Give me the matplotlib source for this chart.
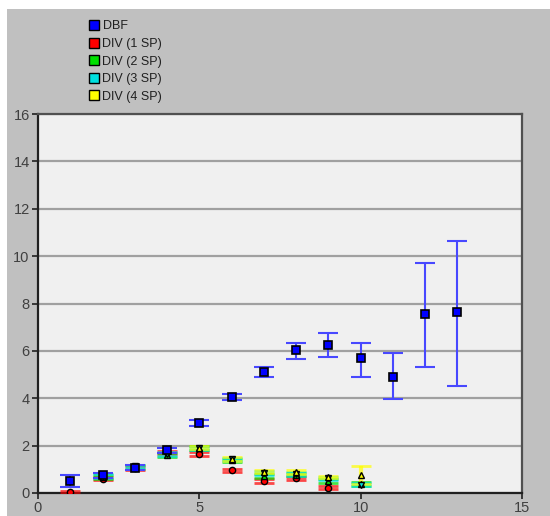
import numpy as np
import matplotlib.pyplot as plt
from matplotlib.patches import Rectangle
from matplotlib.lines import Line2D

plt.rcParams['font.family'] = ['Liberation Sans', 'DejaVu Sans']

# data
x_dbf = [1, 2, 3, 4, 5, 6, 7, 8, 9, 10, 11, 12, 13]
y_dbf = [0.52, 0.75, 1.05, 1.8, 2.95, 4.05, 5.1, 6.05, 6.25, 5.7, 4.9, 7.55, 7.65]
lo_dbf = [0.27, 0.63, 0.95, 1.7, 2.83, 3.93, 4.88, 5.65, 5.75, 4.9, 3.95, 5.3, 4.52]
hi_dbf = [0.76, 0.85, 1.17, 1.9, 3.07, 4.17, 5.32, 6.35, 6.75, 6.35, 5.9, 9.7, 10.65]

x_div1 = [1, 2, 3, 4, 5, 6, 7, 8, 9]
y_div1 = [0.03, 0.6, 1.05, 1.72, 1.65, 0.95, 0.5, 0.62, 0.22]

x_div2 = [2, 3, 4, 5, 6, 7, 8, 9, 10]
y_div2 = [0.68, 1.1, 1.6, 1.9, 1.38, 0.72, 0.78, 0.5, 0.38]

x_div3 = [2, 3, 4, 5, 6, 7, 8, 9, 10]
y_div3 = [0.72, 1.12, 1.65, 1.88, 1.42, 0.85, 0.8, 0.62, 0.35]

x_div4 = [5, 6, 7, 8, 9, 10]
y_div4 = [1.92, 1.45, 0.9, 0.88, 0.68, 0.76]
err_div4 = [0.06, 0.08, 0.06, 0.08, 0.05, 0.4]

labels = ['DBF', 'DIV (1 SP)', 'DIV (2 SP)', 'DIV (3 SP)', 'DIV (4 SP)']
colors = ['#0000ff', '#ff0000', '#00e000', '#00e0e0', '#ffff00']

fig = plt.figure(figsize=(5.5, 5.16), dpi=100)
fig.patch.set_facecolor('white')
fig.patches.append(Rectangle((7 / 550, 0), 1, 1 - 9 / 516, transform=fig.transFigure,
                             facecolor='#c0c0c0', edgecolor='none', zorder=-10))

ax = fig.add_axes([38 / 550, 23 / 516, 484 / 550, 379 / 516])
ax.set_facecolor('#f0f0f0')

# DIV series first (drawn under DBF)
div = [(x_div1, y_div1, None, 'o'), (x_div2, y_div2, None, '^'),
       (x_div3, y_div3, None, 'v'), (x_div4, y_div4, err_div4, '^')]
for i, (xs, ys, er, mk) in enumerate(div):
    if er is None:
        er = [0.07] * len(xs)
    ax.errorbar(xs, ys, yerr=er, fmt='none', ecolor=colors[i + 1], elinewidth=3,
                capsize=7, capthick=2, alpha=0.7, zorder=3)
    ax.plot(xs, ys, linestyle='none', marker=mk, markersize=4.5,
            markerfacecolor=colors[i + 1], markeredgecolor='black', zorder=4)

dbf_err = [np.array(y_dbf) - np.array(lo_dbf), np.array(hi_dbf) - np.array(y_dbf)]
ax.errorbar(x_dbf, y_dbf, yerr=dbf_err, fmt='none', ecolor='#4848ff', elinewidth=1.5,
            capsize=7, capthick=1.5, zorder=5)
ax.plot(x_dbf, y_dbf, linestyle='none', marker='s', markersize=5.8,
        markerfacecolor='#0000ff', markeredgecolor='black', markeredgewidth=1.2, zorder=6)

ax.set_xlim(0, 15)
ax.set_ylim(0, 16)
ax.set_xticks([0, 5, 10, 15])
ax.set_yticks(range(0, 17, 2))
ax.yaxis.grid(True, color='#a0a0a0', linewidth=1.6)
ax.set_axisbelow(True)
for s in ['left', 'bottom']:
    ax.spines[s].set_linewidth(1.6)
    ax.spines[s].set_color('#202020')
for s in ['top', 'right']:
    ax.spines[s].set_linewidth(1.6)
    ax.spines[s].set_color('#505050')
ax.tick_params(direction='out', length=4, width=1.2, labelsize=10.5,
               labelcolor='#404040', color='#202020')
ax.tick_params(axis='x', pad=1.5)
ax.tick_params(axis='y', pad=2)

handles = [Line2D([], [], linestyle='none', marker='s', markersize=7,
                  markerfacecolor=c, markeredgecolor='black') for c in colors]
fig.legend(handles, labels, loc='upper left', bbox_to_anchor=(80 / 550, 1 - 14 / 516),
           frameon=False, fontsize=9, labelspacing=0.45, handletextpad=0.1,
           handlelength=1.2, borderpad=0, labelcolor='#202020')

fig.savefig('out.png', dpi=100)
